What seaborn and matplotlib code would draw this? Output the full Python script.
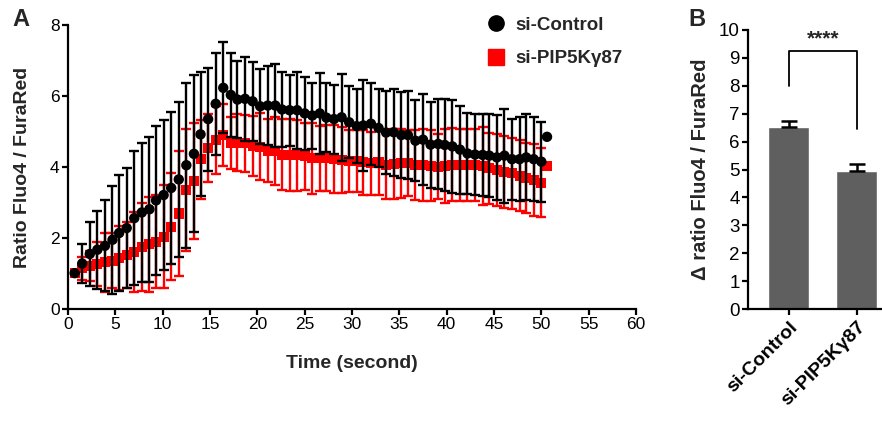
import numpy as np
import pandas as pd
import matplotlib
matplotlib.use("Agg")
import matplotlib.pyplot as plt
from matplotlib.lines import Line2D
import seaborn as sns

# ---------------- data ----------------
time_s = [0.7, 1.5, 2.3, 3.1, 3.9, 4.7, 5.4, 6.2, 7.0, 7.8,
          8.6, 9.3, 10.1, 10.9, 11.7, 12.5, 13.3, 14.0, 14.8, 15.6,
          16.4, 17.2, 17.9, 18.7, 19.5, 20.3, 21.1, 21.9, 22.6, 23.4,
          24.2, 25.0, 25.8, 26.6, 27.3, 28.1, 28.9, 29.7, 30.5, 31.2,
          32.0, 32.8, 33.6, 34.4, 35.2, 35.9, 36.7, 37.5, 38.3, 39.1,
          39.8, 40.6, 41.4, 42.2, 43.0, 43.8, 44.5, 45.3, 46.1, 46.9,
          47.7, 48.4, 49.2, 50.0, 50.6]

ctrl_mean = [1.01, 1.28, 1.55, 1.67, 1.78, 1.95, 2.14, 2.28, 2.56, 2.72,
             2.81, 3.06, 3.21, 3.41, 3.65, 4.05, 4.37, 4.92, 5.35, 5.78,
             6.23, 6.03, 5.90, 5.92, 5.85, 5.71, 5.73, 5.73, 5.62, 5.60,
             5.60, 5.51, 5.45, 5.51, 5.39, 5.35, 5.40, 5.26, 5.15, 5.17,
             5.22, 5.10, 4.97, 4.98, 4.90, 4.90, 4.74, 4.77, 4.63, 4.65,
             4.62, 4.58, 4.49, 4.38, 4.35, 4.34, 4.32, 4.27, 4.32, 4.22,
             4.22, 4.27, 4.22, 4.15, 4.85]
ctrl_err = [0.00, 0.55, 0.90, 1.10, 1.28, 1.52, 1.64, 1.69, 1.89, 1.95,
            2.04, 2.10, 2.12, 2.14, 2.19, 2.33, 2.21, 1.75, 1.45, 1.44,
            1.28, 1.19, 1.08, 1.18, 1.11, 1.06, 1.12, 1.16, 1.05, 1.00,
            1.09, 1.02, 0.93, 1.14, 0.98, 0.97, 1.22, 1.02, 1.05, 1.27,
            1.16, 1.09, 1.18, 1.22, 1.21, 1.24, 1.14, 1.29, 1.21, 1.27,
            1.30, 1.32, 1.24, 1.15, 1.14, 1.16, 1.16, 1.19, 1.32, 1.14,
            1.19, 1.21, 1.18, 1.13, 0.00]

kd_mean = [1.02, 1.15, 1.21, 1.27, 1.32, 1.36, 1.43, 1.52, 1.61, 1.74,
           1.82, 1.90, 2.04, 2.32, 2.69, 3.34, 3.60, 4.22, 4.53, 4.76,
           4.90, 4.67, 4.69, 4.67, 4.60, 4.57, 4.46, 4.44, 4.34, 4.33,
           4.33, 4.30, 4.24, 4.24, 4.24, 4.22, 4.19, 4.17, 4.17, 4.13,
           4.11, 4.15, 4.07, 4.08, 4.11, 4.11, 4.06, 4.06, 4.03, 4.01,
           4.03, 4.06, 4.06, 4.06, 4.06, 4.03, 3.96, 3.92, 3.86, 3.82,
           3.76, 3.70, 3.64, 3.56, 4.04]
kd_err = [0.00, 0.32, 0.42, 0.61, 0.83, 0.78, 0.90, 0.94, 1.12, 1.24,
          1.33, 1.32, 1.44, 1.50, 1.77, 1.72, 1.64, 1.11, 0.96, 0.96,
          0.88, 0.74, 0.80, 0.80, 0.85, 0.95, 0.89, 0.96, 1.00, 1.01,
          1.00, 0.95, 1.00, 0.91, 0.93, 0.96, 0.93, 0.88, 0.87, 0.92,
          0.89, 0.93, 0.97, 0.98, 0.97, 0.92, 0.99, 1.01, 1.00, 0.92,
          1.03, 1.03, 1.01, 1.01, 1.02, 1.10, 1.01, 1.01, 1.01, 1.01,
          0.99, 0.99, 1.01, 0.97, 0.00]

groups = ["si-Control", "si-PIP5Kγ87"]
delta_mean = [6.52, 4.94]
delta_err = [0.23, 0.25]
significance = "****"

# ---------------- style ----------------
sns.set_theme(style="ticks")
plt.rcParams['font.family'] = ['Liberation Sans', 'DejaVu Sans']
plt.rcParams['axes.linewidth'] = 1.6
plt.rcParams['xtick.major.width'] = 1.6
plt.rcParams['ytick.major.width'] = 1.6
plt.rcParams['xtick.major.size'] = 4
plt.rcParams['ytick.major.size'] = 4
plt.rcParams['xtick.color'] = 'black'
plt.rcParams['ytick.color'] = 'black'
plt.rcParams['axes.edgecolor'] = 'black'

W, H = 882, 421
fig = plt.figure(figsize=(W / 100, H / 100), dpi=100)

def px_axes(left, top, right, bottom):
    return fig.add_axes([left / W, (H - bottom) / H, (right - left) / W, (bottom - top) / H])

# ---------------- panel A ----------------
axA = px_axes(68, 25, 636, 309)

df = pd.DataFrame({
    "time": time_s * 2,
    "ratio": ctrl_mean + kd_mean,
    "err": ctrl_err + kd_err,
    "group": [groups[0]] * len(time_s) + [groups[1]] * len(time_s),
})

kd = df[df.group == groups[1]]
ct = df[df.group == groups[0]]
axA.errorbar(kd.time, kd.ratio, yerr=kd.err, fmt="none", ecolor="#ff0000",
             elinewidth=1.7, capsize=3.4, capthick=1.7, zorder=1)
sns.scatterplot(data=kd, x="time", y="ratio", color="#ff0000", marker="s",
                s=52, edgecolor="none", ax=axA, zorder=2, legend=False)
axA.errorbar(ct.time, ct.ratio, yerr=ct.err, fmt="none", ecolor="black",
             elinewidth=1.7, capsize=3.4, capthick=1.7, zorder=3)
sns.scatterplot(data=ct, x="time", y="ratio", color="black", marker="o",
                s=56, edgecolor="none", ax=axA, zorder=4, legend=False)

axA.set_xlim(0, 60)
axA.set_ylim(0, 8)
axA.set_xticks(range(0, 61, 5))
axA.set_yticks(range(0, 9, 2))
axA.tick_params(labelsize=12.5, pad=2)
axA.set_xlabel("Time (second)", fontsize=14, fontweight="bold", labelpad=16)
axA.set_ylabel("Ratio Fluo4 / FuraRed", fontsize=14, fontweight="bold", labelpad=14)
sns.despine(ax=axA)

handles = [Line2D([], [], marker="o", color="black", linestyle="none", markersize=11),
           Line2D([], [], marker="s", color="#ff0000", linestyle="none", markersize=11)]
axA.legend(handles, groups, loc="center left", bbox_to_anchor=(470 / W, (H - 42) / H),
           bbox_transform=fig.transFigure, frameon=False, handlelength=1.0,
           handletextpad=0.5, labelspacing=0.85,
           prop={"size": 13.5, "weight": "bold"})

fig.text(12 / W, (H - 19) / H, "A", fontsize=17, fontweight="bold", va="center", ha="left")

# ---------------- panel B ----------------
axB = px_axes(748, 30, 882, 309)
dfB = pd.DataFrame({"group": groups, "delta": delta_mean, "err": delta_err})
sns.barplot(data=dfB, x="group", y="delta", color="#5f5f5f", width=0.6,
            saturation=1, ax=axB, errorbar=None)
axB.errorbar([0, 1], delta_mean, yerr=[[0, 0], delta_err], fmt="none", ecolor="black",
             elinewidth=1.8, capsize=6, capthick=1.8, zorder=5)
axB.set_xlim(-0.6, 1.37)
axB.set_ylim(0, 10)
axB.set_yticks(range(0, 11))
axB.tick_params(axis="y", labelsize=13.5, pad=2)
axB.tick_params(axis="x", labelsize=14, pad=3)
for lab in axB.get_xticklabels():
    lab.set_rotation(45)
    lab.set_ha("right")
    lab.set_rotation_mode("anchor")
    lab.set_fontweight("bold")
axB.set_xlabel("")
axB.set_ylabel("Δ ratio Fluo4 / FuraRed", fontsize=14.5, fontweight="bold", labelpad=6)
sns.despine(ax=axB)
axB.spines["bottom"].set_bounds(-0.6, 1.37)

axB.plot([0, 0, 1, 1], [8.0, 9.26, 9.26, 6.44], color="black", lw=1.3, clip_on=False)
axB.text(0.5, 9.35, significance, ha="center", va="bottom", fontsize=15, fontweight="bold")

fig.text(688 / W, (H - 19) / H, "B", fontsize=17, fontweight="bold", va="center", ha="left")

fig.savefig("out.png", dpi=100)
